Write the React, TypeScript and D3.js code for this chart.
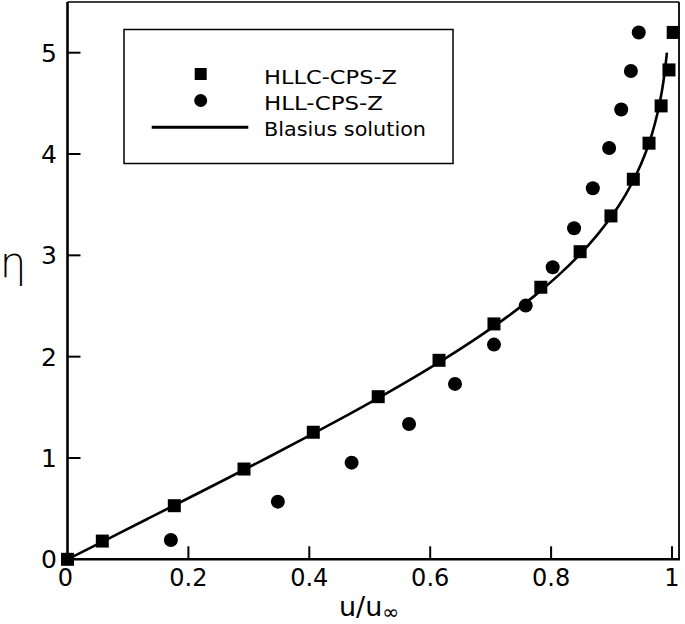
import React from "react";
import * as d3 from "d3";

// HLLC-CPS-Z (squares)
const hllcU = [0, 0.0576, 0.1767, 0.292, 0.4066, 0.514, 0.6146, 0.7055, 0.783, 0.848, 0.899, 0.936, 0.962, 0.982, 0.995, 1.002];
const hllcEta = [0, 0.18, 0.529, 0.891, 1.254, 1.605, 1.964, 2.323, 2.685, 3.036, 3.389, 3.751, 4.107, 4.475, 4.83, 5.2];

// HLL-CPS-Z (circles)
const hllU = [0.171, 0.348, 0.47, 0.565, 0.641, 0.7055, 0.758, 0.8026, 0.838, 0.869, 0.896, 0.916, 0.932, 0.945];
const hllEta = [0.19, 0.569, 0.954, 1.336, 1.731, 2.119, 2.504, 2.883, 3.268, 3.662, 4.06, 4.44, 4.82, 5.2];

// Blasius solution (tabulated f'(eta))
const blasiusEta = [0, 0.2, 0.4, 0.6, 0.8, 1.0, 1.2, 1.4, 1.6, 1.8, 2.0, 2.2, 2.4, 2.6, 2.8, 3.0, 3.2, 3.4, 3.6, 3.8, 4.0, 4.2, 4.4, 4.6, 4.8, 5.0];
const blasiusU = [0, 0.06641, 0.13277, 0.19894, 0.26471, 0.32979, 0.39378, 0.45627, 0.51676, 0.57477, 0.62977, 0.68132, 0.72899, 0.77246, 0.81152, 0.84605, 0.87609, 0.90177, 0.92333, 0.94112, 0.95552, 0.96696, 0.97587, 0.98269, 0.98779, 0.99155];

const xTicks = [0, 0.2, 0.4, 0.6, 0.8, 1];
const xTickLabels = ["0", "0.2", "0.4", "0.6", "0.8", "1"];
const yTicks = [0, 1, 2, 3, 4, 5];
const yTickLabels = ["0", "1", "2", "3", "4", "5"];

const legendNames = ["HLLC-CPS-Z", "HLL-CPS-Z", "Blasius solution"];

export default function App() {
  const W = 685, H = 624;
  const x = d3.scaleLinear().domain([0, 1]).range([67.5, 672]);
  const y = d3.scaleLinear().domain([0, 5]).range([559.3, 52.7]);
  const left = x(0), bottom = y(0), right = 679, top = 2;
  const font = "DejaVu Sans, sans-serif";

  const line = d3
    .line<number>()
    .x((_, i) => x(blasiusU[i]))
    .y((d) => y(d))
    .curve(d3.curveCatmullRom);
  const linePath = line(blasiusEta) || "";

  const sq = 13;
  const r = 7;

  return (
    <svg width={W} height={H} style={{ position: "absolute", left: 0, top: 0, background: "#fff" }}>
      <rect x={0} y={0} width={W} height={H} fill="#fff" />
      {/* frame */}
      <line x1={left} y1={top} x2={right} y2={top} stroke="#000" strokeWidth={1.5} />
      <line x1={right} y1={top} x2={right} y2={bottom} stroke="#000" strokeWidth={1.8} />
      <line x1={left} y1={top} x2={left} y2={bottom + 1.2} stroke="#000" strokeWidth={2.6} />
      <line x1={left - 1.2} y1={bottom} x2={right + 1} y2={bottom} stroke="#000" strokeWidth={2.6} />

      {/* x ticks */}
      {xTicks.map((t, i) => (
        <g key={"xt" + i}>
          {t > 0 && <line x1={x(t)} x2={x(t)} y1={bottom} y2={bottom - 13} stroke="#000" strokeWidth={2} />}
          <text x={x(t) - (t === 0 ? 2 : 0)} y={bottom + 27} fontFamily={font} fontSize={24} textAnchor="middle">
            {xTickLabels[i]}
          </text>
        </g>
      ))}
      {/* y ticks */}
      {yTicks.map((t, i) => (
        <g key={"yt" + i}>
          {t > 0 && <line x1={left} x2={left + 13} y1={y(t)} y2={y(t)} stroke="#000" strokeWidth={2} />}
          <text x={57} y={y(t) + 9} fontFamily={font} fontSize={25} textAnchor="end">
            {yTickLabels[i]}
          </text>
        </g>
      ))}

      {/* axis labels */}
      <text x={13} y={277} fontFamily={font} fontSize={42} textAnchor="middle" fontWeight={300}>
        η
      </text>
      <text x={339} y={616} fontFamily={font} fontSize={27}>
        u/u
        <tspan fontSize={20} dy={3}>∞</tspan>
      </text>

      {/* Blasius line */}
      <path d={linePath} fill="none" stroke="#000" strokeWidth={2.6} />

      {/* HLL circles */}
      {hllU.map((u, i) => (
        <circle key={"c" + i} cx={x(u)} cy={y(hllEta[i])} r={r} fill="#000" />
      ))}
      {/* HLLC squares */}
      {hllcU.map((u, i) => (
        <rect key={"s" + i} x={x(u) - sq / 2} y={y(hllcEta[i]) - sq / 2} width={sq} height={sq} fill="#000" />
      ))}

      {/* legend */}
      <rect x={124} y={29.5} width={329} height={134} fill="#fff" stroke="#000" strokeWidth={1.5} />
      <rect x={200.7 - 6} y={74 - 6} width={12} height={12} fill="#000" />
      <circle cx={200.7} cy={100.5} r={6.5} fill="#000" />
      <line x1={151.7} x2={248.3} y1={127.3} y2={127.3} stroke="#000" strokeWidth={3} />
      <text x={264} y={84} fontFamily={font} fontSize={19.5} textLength={133} lengthAdjust="spacingAndGlyphs">
        {legendNames[0]}
      </text>
      <text x={264} y={110} fontFamily={font} fontSize={19.5} textLength={119} lengthAdjust="spacingAndGlyphs">
        {legendNames[1]}
      </text>
      <text x={264} y={135.7} fontFamily={font} fontSize={19.5} textLength={162} lengthAdjust="spacingAndGlyphs">
        {legendNames[2]}
      </text>
    </svg>
  );
}
